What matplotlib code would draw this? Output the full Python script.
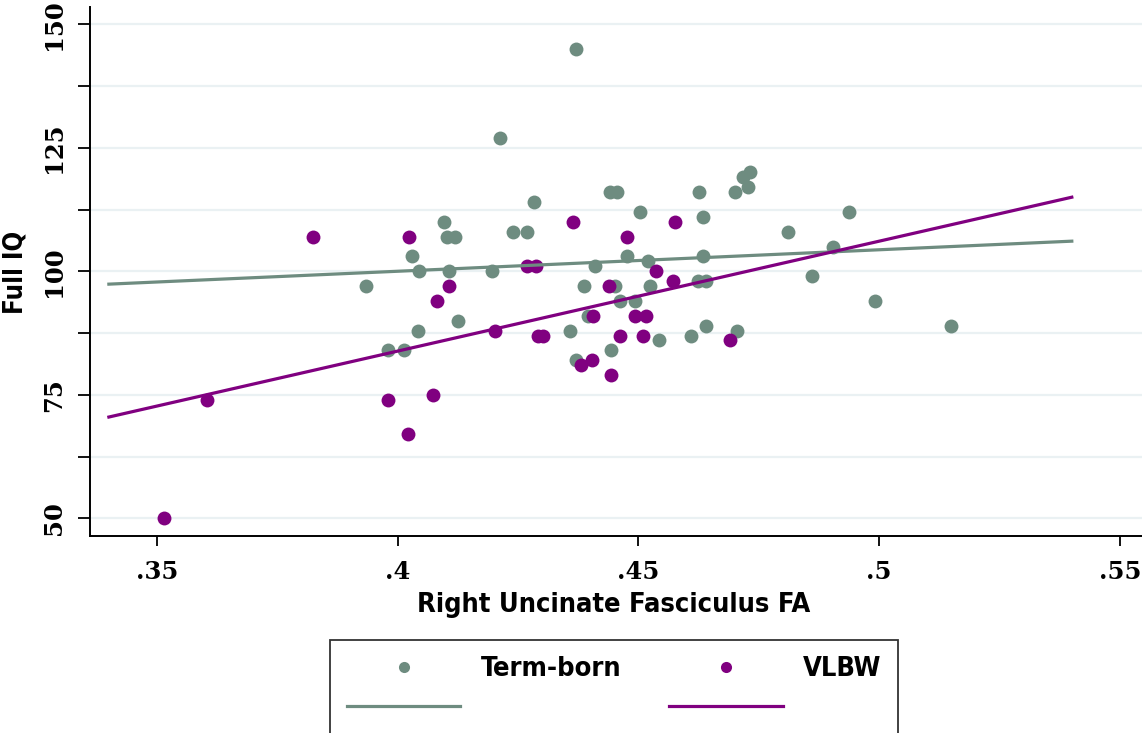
import matplotlib
matplotlib.use("Agg")
import matplotlib.pyplot as plt
from matplotlib import font_manager
from matplotlib.lines import Line2D

# Data
term_fa = [0.4370, 0.4212, 0.3934, 0.3979, 0.4012, 0.4043, 0.4029, 0.4045, 0.4097, 0.4102,
           0.4119, 0.4107, 0.4126, 0.4196, 0.4240, 0.4269, 0.4282, 0.4358, 0.4370, 0.4387,
           0.4410, 0.4396, 0.4443, 0.4441, 0.4455, 0.4451, 0.4462, 0.4493, 0.4476, 0.4503,
           0.4520, 0.4524, 0.4543, 0.4609, 0.4623, 0.4640, 0.4640, 0.4626, 0.4633, 0.4633,
           0.4704, 0.4700, 0.4718, 0.4732, 0.4727, 0.4811, 0.4937, 0.4903, 0.4861, 0.4991,
           0.5149]
term_iq = [145, 127, 97, 84, 84, 88, 103, 100, 110, 107,
           107, 100, 90, 100, 108, 108, 114, 88, 82, 97,
           101, 91, 84, 116, 116, 97, 94, 94, 103, 112,
           102, 97, 86, 87, 98, 98, 89, 116, 111, 103,
           88, 116, 119, 120, 117, 108, 112, 105, 99, 94,
           89]
vlbw_fa = [0.3515, 0.3603, 0.3979, 0.3823, 0.4024, 0.4107, 0.4082, 0.4022, 0.4074, 0.4203,
           0.4268, 0.4288, 0.4292, 0.4302, 0.4365, 0.4380, 0.4404, 0.4406, 0.4439, 0.4443,
           0.4462, 0.4477, 0.4493, 0.4516, 0.4510, 0.4536, 0.4571, 0.4576, 0.4690]
vlbw_iq = [50, 74, 74, 107, 107, 97, 94, 67, 75, 88,
           101, 101, 87, 87, 110, 81, 82, 91, 97, 79,
           87, 107, 91, 91, 87, 100, 98, 110, 86]

# fitted lines (end points)
fit_x = [0.34, 0.54]
term_fit = [97.4, 106.1]
vlbw_fit = [70.5, 115.0]

xticks = [0.35, 0.40, 0.45, 0.50, 0.55]
xtick_labels = [".35", ".4", ".45", ".5", ".55"]
yticks = [50, 62.5, 75, 87.5, 100, 112.5, 125, 137.5, 150]
ytick_labels = ["50", "", "75", "", "100", "", "125", "", "150"]

gray = "#6e8c80"
purple = "#800080"

# condensed bold font for titles
names = {f.name for f in font_manager.fontManager.ttflist}
if "Liberation Sans Narrow" in names:
    title_font = dict(family="Liberation Sans Narrow", weight="bold")
else:
    title_font = dict(family="DejaVu Sans", weight="bold", stretch="condensed")
tick_font = dict(family="DejaVu Serif", weight="bold", size=17.5)

fig = plt.figure(figsize=(11.42, 7.33), dpi=100)
ax = fig.add_axes([90 / 1142, 1 - 536 / 733, 1 - 90 / 1142, (536 - 7) / 733])

ax.set_xlim(0.33608, 0.55458)
ax.set_ylim(46.42, 153.5)

ax.set_yticks(yticks)
ax.set_yticklabels(ytick_labels, rotation=90, va="center", **tick_font)
ax.set_xticks(xticks)
ax.set_xticklabels(xtick_labels, **tick_font)
ax.tick_params(axis="y", length=9, width=1.3, pad=8)
ax.tick_params(axis="x", length=7, width=1.3, pad=10)

for y in yticks:
    ax.axhline(y, color="#eaf1f3", lw=1.6, zorder=0)

for s in ["top", "right"]:
    ax.spines[s].set_visible(False)
for s in ["left", "bottom"]:
    ax.spines[s].set_linewidth(1.4)

ax.plot(term_fa, term_iq, "o", color=gray, ms=10, mec="none", zorder=3)
ax.plot(vlbw_fa, vlbw_iq, "o", color=purple, ms=10, mec="none", zorder=3)
ax.plot(fit_x, term_fit, color=gray, lw=2.3, zorder=4)
ax.plot(fit_x, vlbw_fit, color=purple, lw=2.3, zorder=4)

fig.text(614 / 1142, 1 - 605 / 733, "Right Uncinate Fasciculus FA", ha="center", va="center",
         size=19.5, **title_font)
fig.text(15 / 1142, 1 - 272 / 733, "Full IQ", ha="center", va="center", rotation=90,
         size=18.5, **title_font)

handles = [Line2D([], [], ls="none", marker="o", color=gray, ms=8, mec="none"),
           Line2D([], [], color=gray, lw=2.3),
           Line2D([], [], ls="none", marker="o", color=purple, ms=8, mec="none"),
           Line2D([], [], color=purple, lw=2.3)]
labels = ["Term-born", "", "VLBW", ""]
leg = fig.legend(handles, labels, ncol=2, loc="upper center",
                 bbox_to_anchor=(614 / 1142, 1 - 640 / 733),
                 prop=dict(size=19.5, **title_font), frameon=True, fancybox=False,
                 edgecolor="black", handlelength=4.2, handletextpad=0.75,
                 columnspacing=1.75, labelspacing=0.5, borderpad=0.6, borderaxespad=0)
leg.get_frame().set_linewidth(1.3)

fig.savefig("out.png", dpi=100)
